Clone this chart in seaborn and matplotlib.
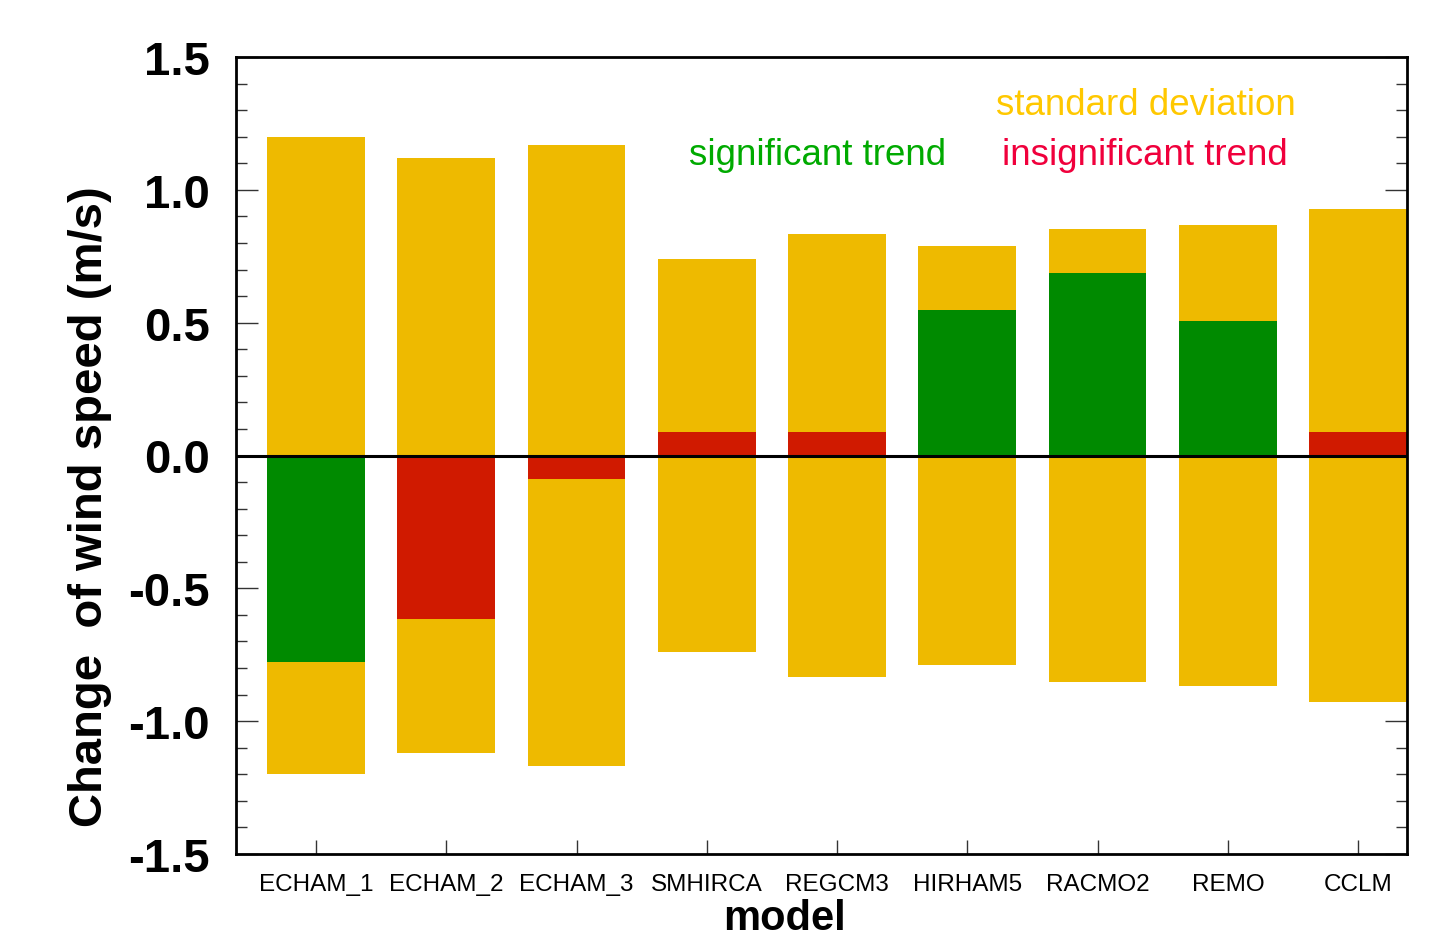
import numpy as np
import pandas as pd
import matplotlib
matplotlib.use("Agg")
import matplotlib.pyplot as plt
from matplotlib.ticker import MultipleLocator, FormatStrFormatter
import seaborn as sns

# data
models = ["ECHAM_1", "ECHAM_2", "ECHAM_3", "SMHIRCA", "REGCM3",
          "HIRHAM5", "RACMO2", "REMO", "CCLM"]
std_dev = [1.20, 1.12, 1.17, 0.74, 0.835, 0.79, 0.853, 0.868, 0.927]
trend = [-0.778, -0.617, -0.09, 0.09, 0.09, 0.549, 0.688, 0.508, 0.09]
significant = [True, False, False, False, False, True, True, True, False]

df = pd.DataFrame({
    "model": models,
    "std_up": std_dev,
    "std_down": [-s for s in std_dev],
    "trend": trend,
    "status": ["significant" if s else "insignificant" for s in significant],
})

sns.set_style("ticks")
plt.rcParams["font.family"] = ["Liberation Sans", "DejaVu Sans"]
plt.rcParams["axes.unicode_minus"] = False
plt.rcParams["text.color"] = "black"
plt.rcParams["axes.labelcolor"] = "black"
plt.rcParams["xtick.labelcolor"] = "black"
plt.rcParams["ytick.labelcolor"] = "black"

yellow = "#EEBA00"
trend_colors = {"significant": "#008A00", "insignificant": "#D01A00"}

fig = plt.figure(figsize=(14.52, 9.37), dpi=100)
ax = fig.add_axes([236 / 1452, 1 - 855 / 937, 1171 / 1452, 797 / 937])

# standard deviation band, upper and lower half
sns.barplot(data=df, x="model", y="std_up", order=models, color=yellow,
            saturation=1, width=0.75, linewidth=0, ax=ax)
sns.barplot(data=df, x="model", y="std_down", order=models, color=yellow,
            saturation=1, width=0.75, linewidth=0, ax=ax)
# trend bars
sns.barplot(data=df, x="model", y="trend", order=models, hue="status",
            palette=trend_colors, dodge=False, saturation=1, width=0.75,
            linewidth=0, legend=False, ax=ax)

ax.axhline(0, color="black", lw=2.2, zorder=5)

ax.set_xlim(-0.614, 8.375)
ax.set_ylim(-1.5, 1.5)
ax.yaxis.set_major_locator(MultipleLocator(0.5))
ax.yaxis.set_minor_locator(MultipleLocator(0.1))
ax.yaxis.set_major_formatter(FormatStrFormatter("%.1f"))

ax.tick_params(axis="y", which="major", direction="in", length=16, width=1,
               left=True, right=True, labelsize=34, pad=19, color="#333333",
               labelcolor="black")
ax.tick_params(axis="y", which="minor", direction="in", length=8, width=1,
               left=True, right=True, color="#333333")
ax.tick_params(axis="x", which="major", direction="in", length=10, width=1,
               bottom=True, top=False, labelsize=17.5, pad=14, color="#333333",
               labelcolor="black")
for lab in ax.get_yticklabels():
    lab.set_fontweight("bold")

for sp in ax.spines.values():
    sp.set_visible(True)
    sp.set_linewidth(2)
    sp.set_color("black")

ax.set_ylabel("Change  of wind speed (m/s)", fontsize=34, fontweight="bold",
              color="black")
ax.yaxis.set_label_coords(-0.106, 0.437)
ax.set_xlabel("model", fontsize=30, fontweight="bold", color="black")
ax.xaxis.set_label_coords(0.468, -0.055)
ax.xaxis.label.set_va("top")

ax.text(0.777, 0.94, "standard deviation", color="#FFC800", fontsize=26.5,
        ha="center", va="center", transform=ax.transAxes)
ax.text(0.497, 0.878, "significant trend", color="#00AA00", fontsize=26.5,
        ha="center", va="center", transform=ax.transAxes)
ax.text(0.776, 0.878, "insignificant trend", color="#F0003C", fontsize=26.5,
        ha="center", va="center", transform=ax.transAxes)

fig.savefig("out.png", dpi=100)
